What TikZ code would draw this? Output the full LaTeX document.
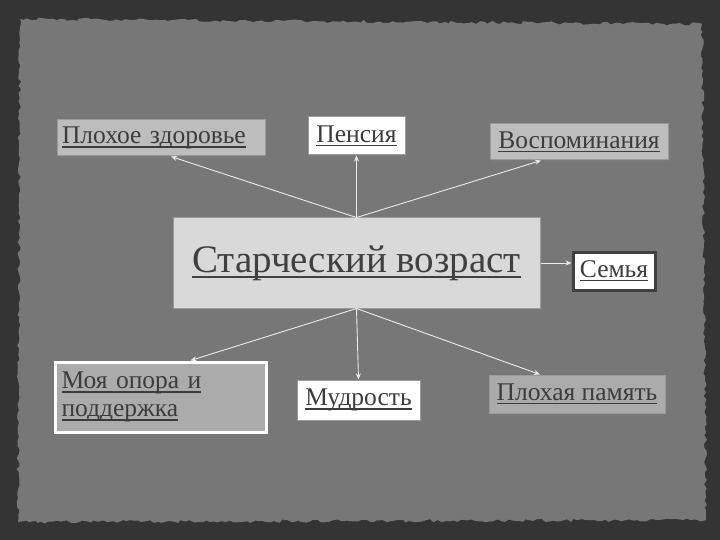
\documentclass[tikz,border=0pt]{standalone}
\usepackage{fontspec}
\setmainfont{Liberation Serif}
\usetikzlibrary{arrows.meta,decorations.pathmorphing,shadows}
\definecolor{frame}{HTML}{343434}
\definecolor{paper}{HTML}{777777}
\definecolor{txt}{HTML}{3C3C3C}
\definecolor{boxgray}{HTML}{BDBDBD}
\definecolor{boxdark}{HTML}{ABABAB}
\definecolor{boxmain}{HTML}{D9D9D9}
\definecolor{edgegray}{HTML}{9A9A9A}
\newsavebox{\lblbox}
\newcommand{\lbl}[1]{\leavevmode\sbox{\lblbox}{#1}%
  \rlap{\raisebox{-0.16em}{\rule{\wd\lblbox}{0.07em}}}\usebox{\lblbox}}
\begin{document}
\begin{tikzpicture}[x=1pt,y=-1pt,
  every node/.style={inner sep=0pt, font=\fontsize{25.5}{28}\selectfont, text=txt},
  card/.style={draw=edgegray, line width=1pt, minimum height=36pt,
    drop shadow={opacity=0.35, shadow xshift=2pt, shadow yshift=-2pt}},
  lightcard/.style={card, fill=boxgray},
  whitecard/.style={card, fill=white},
  darkcard/.style={card, fill=boxdark},
  link/.style={draw=white!92!black, line width=0.9pt,
    -{Stealth[length=6pt,width=5pt]}}]
  % paper background
  \fill[frame] (0,0) rectangle (720,540);
  \fill[paper, decorate, decoration={random steps, segment length=4pt, amplitude=1.6pt}]
    (20,19) -- (702,24) -- (706,520) -- (18,522) -- cycle;
  \useasboundingbox (0,0) rectangle (720,540);

  % nodes
  \node[lightcard, minimum width=208pt, text width=198pt, align=left] (health) at (161,138)
    {\lbl{Плохое здоровье}};
  \node[whitecard, minimum width=97pt, minimum height=38pt] (pension) at (356.5,136)
    {\lbl{Пенсия}};
  \node[lightcard, minimum width=178pt] (memories) at (579,142)
    {\lbl{Воспоминания}};
  \node[card, fill=boxmain, minimum width=367pt, minimum height=90pt,
    font=\fontsize{39}{44}\selectfont, text=black!75] (age) at (356.5,263)
    {\lbl{Старческий возраст}};
  \node[whitecard, draw=black!75, line width=3pt, minimum width=82pt, minimum height=38pt]
    (family) at (614,271) {\lbl{Семья}};
  \node[darkcard, draw=white, line width=3pt, minimum width=211pt, minimum height=70pt,
    text width=198pt, align=left] (support) at (160.5,397)
    {\lbl{Моя опора и}\\ \lbl{поддержка}};
  \node[whitecard, minimum width=123pt, minimum height=40pt] (wisdom) at (358.5,400)
    {\lbl{Мудрость}};
  \node[darkcard, minimum width=176pt, minimum height=38pt] (memory) at (577,394)
    {\lbl{Плохая память}};

  % connectors
  \draw[link] (age.north) -- ([xshift=10pt]health.south);
  \draw[link] (age.north) -- (pension.south);
  \draw[link] (age.north) -- ([xshift=-38pt]memories.south);
  \draw[link] (age.east) -- (family.west |- age.east);
  \draw[link] (age.south) -- ([xshift=30pt]support.north);
  \draw[link] (age.south) -- (wisdom.north);
  \draw[link] (age.south) -- ([xshift=-37pt]memory.north);
\end{tikzpicture}
\end{document}
